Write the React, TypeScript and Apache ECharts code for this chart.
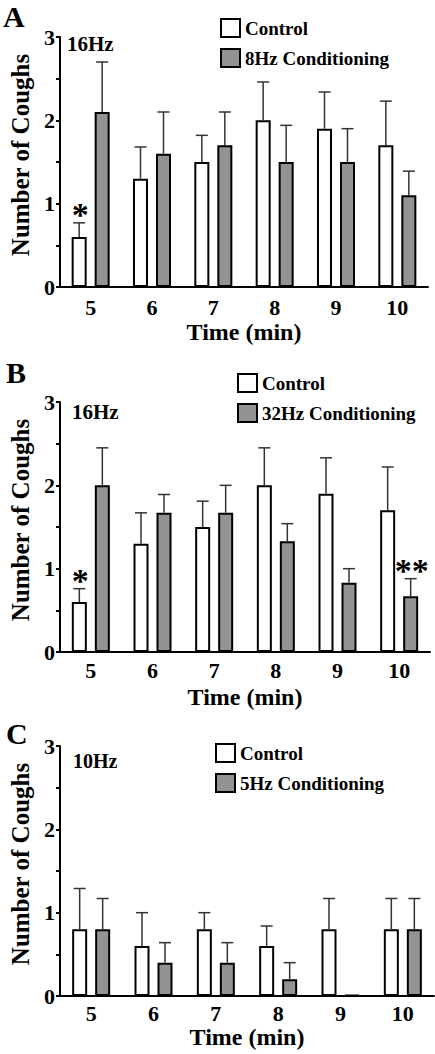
import React, { useEffect, useRef } from "react";
import * as echarts from "echarts";

// ---- data ----
const categories = ["5", "6", "7", "8", "9", "10"];

// Panel A (16Hz test, 8Hz conditioning)
const aControl = [0.6, 1.3, 1.5, 2.0, 1.9, 1.7];
const aControlSem = [0.17, 0.38, 0.32, 0.46, 0.44, 0.53];
const aCond = [2.1, 1.6, 1.7, 1.5, 1.5, 1.1];
const aCondSem = [0.6, 0.5, 0.4, 0.44, 0.4, 0.29];
const aControlMarks = ["*", "", "", "", "", ""];
const aCondMarks = ["", "", "", "", "", ""];

// Panel B (16Hz test, 32Hz conditioning)
const bControl = [0.6, 1.3, 1.5, 2.0, 1.9, 1.7];
const bControlSem = [0.16, 0.37, 0.31, 0.45, 0.43, 0.52];
const bCond = [2.0, 1.67, 1.67, 1.33, 0.83, 0.67];
const bCondSem = [0.45, 0.22, 0.33, 0.21, 0.17, 0.21];
const bControlMarks = ["*", "", "", "", "", ""];
const bCondMarks = ["", "", "", "", "", "**"];

// Panel C (10Hz test, 5Hz conditioning)
const cControl = [0.8, 0.6, 0.8, 0.6, 0.8, 0.8];
const cControlSem = [0.49, 0.4, 0.2, 0.24, 0.37, 0.37];
const cCond = [0.8, 0.4, 0.4, 0.2, 0, 0.8];
const cCondSem = [0.37, 0.24, 0.24, 0.2, 0, 0.37];
const cControlMarks = ["", "", "", "", "", ""];
const cCondMarks = ["", "", "", "", "", ""];

const panelLetters = ["A", "B", "C"];
const panelFreqs = ["16Hz", "16Hz", "10Hz"];
const condNames = ["8Hz Conditioning", "32Hz Conditioning", "5Hz Conditioning"];
const yTicks = { min: 0, max: 3, step: 0.5 };
const xTitle = "Time (min)";
const yTitle = "Number of Coughs";

// ---- style ----
const FONT = '"Liberation Serif", "Times New Roman", serif';
const GRAY = "#939393";
const BAR_W = 15;
const BAR_GAP = 8;
const OFF = (BAR_W + BAR_GAP) / 2;

const grids = [
  { left: 52, top: 37, width: 376, height: 250 },
  { left: 56, top: 402, width: 374, height: 250 },
  { left: 58, top: 746, width: 376, height: 250 },
];
const legendPos = [
  { left: 220, top: 18 },
  { left: 237, top: 373 },
  { left: 215, top: 743 },
];
const xNameGaps = [33, 33, 26];
const xLabelMargins = [9, 7, 6];
const letterPos = [
  { x: 3, y: 16 },
  { x: 6, y: 372 },
  { x: 6, y: 733 },
];
const freqPos = [
  { x: 67, y: 44 },
  { x: 72, y: 412 },
  { x: 73, y: 761 },
];

function errSeries(g: number, means: number[], sems: number[], offset: number, marks: string[]) {
  return {
    type: "custom",
    xAxisIndex: g,
    yAxisIndex: g,
    z: 3,
    silent: true,
    data: means.map((m, i) => [i, m, sems[i]]),
    renderItem: (_p: any, api: any) => {
      const i = api.value(0);
      const m = api.value(1);
      const s = api.value(2);
      const p0 = api.coord([i, m]);
      const p1 = api.coord([i, m + s]);
      const cx = p0[0] + offset;
      const children: any[] = [];
      if (s > 0) {
        children.push({
          type: "line",
          shape: { x1: cx, y1: p0[1], x2: cx, y2: p1[1] },
          style: { stroke: "#333", lineWidth: 1.5 },
        });
        children.push({
          type: "line",
          shape: { x1: cx - 6, y1: p1[1], x2: cx + 6, y2: p1[1] },
          style: { stroke: "#333", lineWidth: 1.5 },
        });
      }
      const mk = marks[i];
      if (mk) {
        children.push({
          type: "text",
          x: cx + 1,
          y: p1[1] - 8,
          style: {
            text: mk,
            fontSize: 34,
            fontWeight: "bold",
            fontFamily: FONT,
            fill: "#000",
            textAlign: "center",
            textVerticalAlign: "middle",
          },
        });
      }
      return { type: "group", children };
    },
  };
}

export default function App() {
  const ref = useRef<HTMLDivElement>(null);
  useEffect(() => {
    if (!ref.current) return;
    const chart = echarts.init(ref.current, null, { renderer: "svg" });
    const controls = [aControl, bControl, cControl];
    const conds = [aCond, bCond, cCond];
    const controlSems = [aControlSem, bControlSem, cControlSem];
    const condSems = [aCondSem, bCondSem, cCondSem];
    const controlMarks = [aControlMarks, bControlMarks, cControlMarks];
    const condMarks = [aCondMarks, bCondMarks, cCondMarks];

    const series: any[] = [];
    for (let g = 0; g < 3; g++) {
      series.push({
        type: "bar",
        name: "Control",
        xAxisIndex: g,
        yAxisIndex: g,
        data: controls[g],
        barWidth: BAR_W,
        barGap: `${(BAR_GAP / BAR_W) * 100}%`,
        barMinHeight: 1,
        itemStyle: { color: "#fff", borderColor: "#000", borderWidth: 2 },
      });
      series.push({
        type: "bar",
        name: condNames[g],
        xAxisIndex: g,
        yAxisIndex: g,
        data: conds[g],
        barWidth: BAR_W,
        barGap: `${(BAR_GAP / BAR_W) * 100}%`,
        barMinHeight: 1,
        itemStyle: { color: GRAY, borderColor: "#000", borderWidth: 2 },
      });
      series.push(errSeries(g, controls[g], controlSems[g], -OFF, controlMarks[g]));
      series.push(errSeries(g, conds[g], condSems[g], OFF, condMarks[g]));
    }

    const option: any = {
      animation: false,
      backgroundColor: "#fff",
      textStyle: { fontFamily: FONT },
      grid: grids.map((gr) => ({ ...gr, containLabel: false })),
      legend: [0, 1, 2].map((g) => ({
        data: ["Control", condNames[g]],
        orient: "vertical",
        left: legendPos[g].left,
        top: legendPos[g].top,
        padding: 0,
        itemWidth: 19,
        itemHeight: 18,
        itemGap: 10,
        icon: "rect",
        selectedMode: false,
        itemStyle: { borderColor: "#000", borderWidth: 2 },
        textStyle: { fontSize: 19, fontWeight: "bold", color: "#000", fontFamily: FONT },
      })),
      xAxis: [0, 1, 2].map((g) => ({
        type: "category",
        gridIndex: g,
        data: categories,
        axisLine: { lineStyle: { color: "#000", width: 2 } },
        axisTick: { alignWithLabel: true, length: 4, lineStyle: { color: "#000", width: 2 } },
        axisLabel: { margin: xLabelMargins[g], fontSize: 22, fontWeight: "bold", color: "#000", fontFamily: FONT },
        name: xTitle,
        nameLocation: "middle",
        nameGap: xNameGaps[g],
        nameTextStyle: { fontSize: 24, fontWeight: "bold", color: "#000", fontFamily: FONT },
      })),
      yAxis: [0, 1, 2].map((g) => ({
        type: "value",
        gridIndex: g,
        min: yTicks.min,
        max: yTicks.max,
        interval: yTicks.step,
        splitLine: { show: false },
        axisLine: { show: true, lineStyle: { color: "#000", width: 2 } },
        axisTick: { show: true, length: 4, lineStyle: { color: "#000", width: 2 } },
        axisLabel: {
          margin: 5,
          fontSize: 22,
          fontWeight: "bold",
          color: "#000",
          fontFamily: FONT,
          formatter: (v: number) => (v % 1 === 0 ? String(v) : ""),
        },
        name: yTitle,
        nameLocation: "middle",
        nameGap: 27,
        nameTextStyle: { fontSize: 25, fontWeight: "bold", color: "#000", fontFamily: FONT, padding: [0, 0, 0, 14] },
      })),
      graphic: [
        ...panelLetters.map((t, g) => ({
          type: "text",
          x: letterPos[g].x,
          y: letterPos[g].y,
          style: {
            text: t,
            fontSize: 30,
            fontWeight: "bold",
            fontFamily: FONT,
            fill: "#000",
            textVerticalAlign: "middle",
          },
        })),
        ...panelFreqs.map((t, g) => ({
          type: "text",
          x: freqPos[g].x,
          y: freqPos[g].y,
          style: {
            text: t,
            fontSize: g === 2 ? 20 : 21,
            fontWeight: "bold",
            fontFamily: FONT,
            fill: "#000",
            textVerticalAlign: "middle",
          },
        })),
      ],
      series,
    };
    chart.setOption(option);
    return () => chart.dispose();
  }, []);
  return (
    <div
      ref={ref}
      style={{ position: "fixed", left: 0, top: 0, width: 435, height: 1054, background: "#fff" }}
    />
  );
}
